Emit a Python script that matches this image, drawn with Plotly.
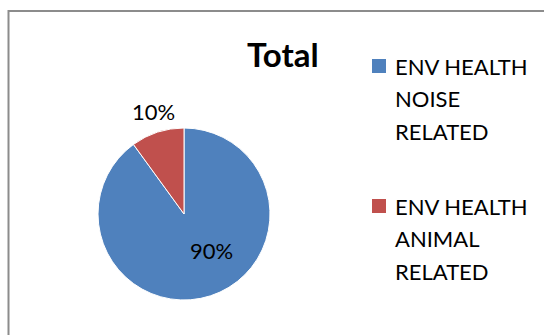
import plotly.graph_objects as go

categories = ["ENV HEALTH NOISE RELATED", "ENV HEALTH ANIMAL RELATED"]
values = [90, 10]
colors = ["#4F81BD", "#C0504D"]
title_text = "Total"

FONT = "Lato"
TXT = 22

fig = go.Figure()
fig.add_trace(go.Pie(
    labels=categories,
    values=values,
    sort=False,
    direction="clockwise",
    rotation=0,
    marker=dict(colors=colors, line=dict(color="white", width=1)),
    textinfo="none",
    showlegend=False,
    domain=dict(x=[98/544, 270/544], y=[35/335, 207/335]),
    automargin=False,
))

# data labels (percentages computed from the values)
label_pos = [(211.5, 250.5), (153, 111.5)]
total = sum(values)
for v, (lx, ly) in zip(values, label_pos):
    fig.add_annotation(text=f"{v / total:.0%}", x=lx, y=ly,
                       xref="x", yref="y", showarrow=False,
                       xanchor="center", yanchor="middle",
                       font=dict(family=FONT, size=TXT, color="#000"))

# Border of chart area
fig.add_shape(type="path", path="M 8.5 340 L 8.5 11 L 550 11",
              xref="x", yref="y", line=dict(color="#8C8C8C", width=2))

# Title
fig.add_annotation(text=f"<b>{title_text}</b>", x=283, y=54, xref="x", yref="y",
                   showarrow=False, font=dict(family=FONT, size=33, color="#000"),
                   xanchor="center", yanchor="middle")

# Legend
legend_tops = [66, 206]
for i, (cat, col) in enumerate(zip(categories, colors)):
    words = cat.split(" ")
    lines = [" ".join(words[:2]), words[2], words[3]]
    y0 = legend_tops[i]
    fig.add_shape(type="rect", x0=372, x1=386, y0=y0 - 7, y1=y0 + 7,
                  xref="x", yref="y", fillcolor=col, line=dict(width=0))
    for j, ln in enumerate(lines):
        fig.add_annotation(text=ln, x=393, y=y0 + 32.5 * j, xref="x", yref="y",
                           showarrow=False, xanchor="left", yanchor="middle",
                           font=dict(family=FONT, size=TXT, color="#000"))

fig.update_layout(
    width=544, height=335,
    margin=dict(l=0, r=0, t=0, b=0),
    paper_bgcolor="white", plot_bgcolor="rgba(0,0,0,0)",
    xaxis=dict(range=[0, 544], visible=False, fixedrange=True),
    yaxis=dict(range=[335, 0], visible=False, fixedrange=True),
    showlegend=False,
)

fig.write_html("out.html")
